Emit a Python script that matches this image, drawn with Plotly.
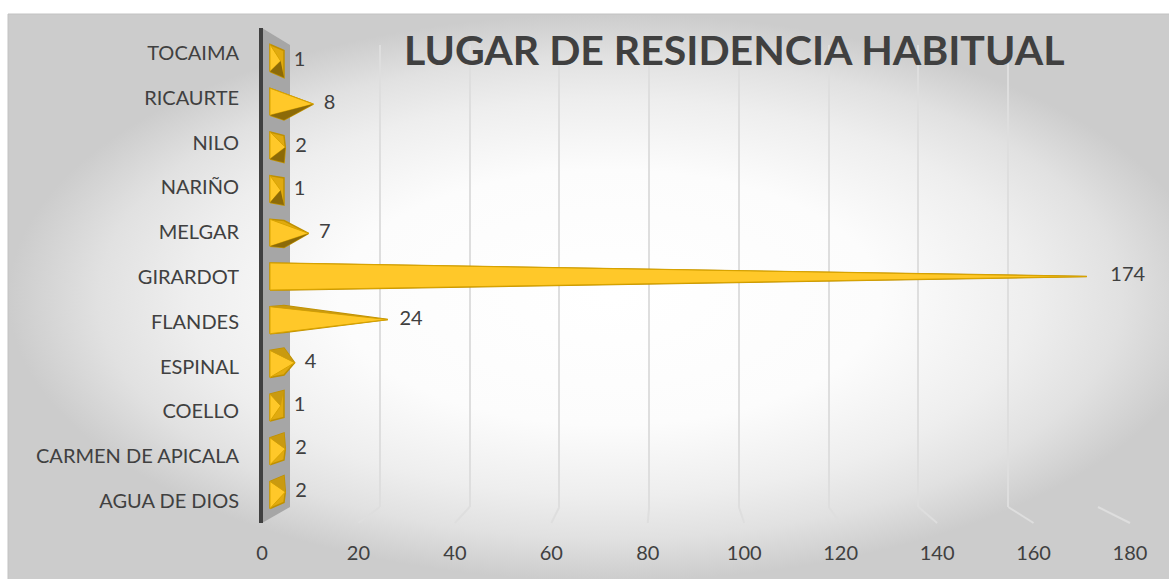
import plotly.graph_objects as go

# ---------------- data ----------------
CATEGORIES = ["AGUA DE DIOS", "CARMEN DE APICALA", "COELLO", "ESPINAL", "FLANDES",
              "GIRARDOT", "MELGAR", "NARIÑO", "NILO", "RICAURTE", "TOCAIMA"]
VALUES = [2, 2, 1, 4, 24, 174, 7, 1, 2, 8, 1]
X_TICKS = [0, 20, 40, 60, 80, 100, 120, 140, 160, 180]
X_TICK_LABELS = ["0", "20", "40", "60", "80", "100", "120", "140", "160", "180"]
TITLE = "LUGAR DE RESIDENCIA HABITUAL"

# ---------------- layout geometry (pixels) ----------------
W, H = 1169, 579
XMAX = 180
FRONT0, FRONT180 = 262, 1130          # front plane (tick labels)
BACK0, BACK180 = 290, 1098            # back plane (gridlines)
MID0, MIDK = 276, 4.66                # mid plane (pyramids)
FRONT_TOP, FRONT_BOT = 28, 523
BACK_TOP, BACK_BOT = 45, 507
LBL_TOP, LBL_BOT = 53, 501            # category label centres
BAR_TOP, BAR_BOT = 58, 495            # pyramid centres
BG_LEFT, BG_TOP = 8, 14


def front_px(v):
    return FRONT0 + (FRONT180 - FRONT0) * v / XMAX


def back_px(v):
    return BACK0 + (BACK180 - BACK0) * v / XMAX


def ydom(top_px, bot_px):
    return [1 - bot_px / H, 1 - top_px / H]


n = len(CATEGORIES)
lbl_step = (LBL_BOT - LBL_TOP) / (n - 1)
bar_step = (BAR_BOT - BAR_TOP) / (n - 1)

TEXT = "#404040"
FONT = "Lato, 'Open Sans', sans-serif"
GRID = "#DEDEDE"

fig = go.Figure()

# ---------- background with radial gradient (pixel subplot xy) ----------
BG_RIGHT = 1212
fig.add_trace(go.Scatter(
    x=[BG_LEFT, BG_RIGHT, BG_RIGHT, BG_LEFT, BG_LEFT], y=[BG_TOP, BG_TOP, H + 2, H + 2, BG_TOP],
    mode="lines", fill="toself",
    line=dict(width=1, color="#C2C2C2"), hoverinfo="skip", showlegend=False,
    fillgradient=dict(type="radial",
                      colorscale=[[0, "#FFFFFF"], [0.45, "#FCFCFC"], [0.7, "#EEEEEE"],
                                  [0.85, "#E1E1E1"], [1, "#CCCCCC"]]),
))

# diagonal floor gridline pieces
gx, gy = [], []
for v in X_TICKS[1:]:
    gx += [back_px(v), front_px(v), None]
    gy += [BACK_BOT, FRONT_BOT, None]
fig.add_trace(go.Scatter(x=gx, y=gy, mode="lines", line=dict(color=GRID, width=2),
                         hoverinfo="skip", showlegend=False))

# side wall
fig.add_trace(go.Scatter(
    x=[front_px(0), back_px(0), back_px(0), front_px(0), front_px(0)],
    y=[FRONT_TOP, BACK_TOP, BACK_BOT, FRONT_BOT, FRONT_TOP],
    mode="lines", fill="toself", fillcolor="#A6A6A6", line=dict(width=0),
    hoverinfo="skip", showlegend=False))
fig.add_trace(go.Scatter(
    x=[front_px(0) - 1, front_px(0) - 1], y=[FRONT_TOP, FRONT_BOT], mode="lines",
    line=dict(color="#404040", width=4), hoverinfo="skip", showlegend=False))

# ---------- back plane grid (x2y2) ----------
fig.add_trace(go.Scatter(x=[None], y=[None], xaxis="x2", yaxis="y2",
                         showlegend=False, hoverinfo="skip"))

# ---------- front plane labels (x3y3) ----------
fig.add_trace(go.Scatter(x=[None], y=[None], xaxis="x3", yaxis="y3",
                         showlegend=False, hoverinfo="skip"))

# ---------- pyramids (x4y4) ----------
XF = -6 / MIDK
XB = 8 / MIDK
HH = 13.5 / bar_step
K = 6 / bar_step / 5
mid = (n - 1) / 2


def hull(pts):
    pts = sorted(set(pts))
    if len(pts) <= 2:
        return pts

    def cross(o, a, b):
        return (a[0] - o[0]) * (b[1] - o[1]) - (a[1] - o[1]) * (b[0] - o[0])
    lower, upper = [], []
    for p in pts:
        while len(lower) >= 2 and cross(lower[-2], lower[-1], p) <= 0:
            lower.pop()
        lower.append(p)
    for p in reversed(pts):
        while len(upper) >= 2 and cross(upper[-2], upper[-1], p) <= 0:
            upper.pop()
        upper.append(p)
    return lower[:-1] + upper[:-1]


for i, v in enumerate(VALUES):
    s = (mid - i) * K
    ft, fb = (XF, i + HH), (XF, i - HH)
    bt, bb = (XB, i + HH + s), (XB, i - HH + s)
    tip = (v, i + s / 2)
    h = hull([ft, fb, bt, bb, tip])
    h.append(h[0])
    fig.add_trace(go.Scatter(
        x=[p[0] for p in h], y=[p[1] for p in h], xaxis="x4", yaxis="y4",
        mode="lines", fill="toself", fillcolor="#E0AA10",
        line=dict(color="#BF9000", width=1.5), hoverinfo="skip", showlegend=False))
    # front face
    fig.add_trace(go.Scatter(
        x=[ft[0], fb[0], tip[0], ft[0]], y=[ft[1], fb[1], tip[1], ft[1]],
        xaxis="x4", yaxis="y4", mode="lines", fill="toself", fillcolor="#FFC829",
        line=dict(color="#D9A400", width=1), hoverinfo="skip", showlegend=False))
    # side face (bottom for upper bars, top for lower bars)
    if i > mid:
        face = [fb, bb, tip, fb]
        col = "#8C6A08"
    elif i < mid:
        face = [ft, bt, tip, ft]
        col = "#C99A10"
    else:
        face = None
    if face:
        fig.add_trace(go.Scatter(
            x=[p[0] for p in face], y=[p[1] for p in face], xaxis="x4", yaxis="y4",
            mode="lines", fill="toself", fillcolor=col, line=dict(width=0),
            hoverinfo="skip", showlegend=False))

# data labels (slight perspective push to the right for longer bars)
fig.add_trace(go.Scatter(
    x=[max(v, XB) + 0.017 * v for v in VALUES],
    y=[i + (mid - i) * K / 2 for i in range(n)],
    xaxis="x4", yaxis="y4", mode="markers+text",
    marker=dict(size=14, color="rgba(0,0,0,0)"),
    text=[str(v) for v in VALUES], textposition="middle right",
    textfont=dict(family=FONT, size=20, color=TEXT),
    cliponaxis=False, hoverinfo="skip", showlegend=False))

hidden = dict(visible=False, showgrid=False, zeroline=False, fixedrange=True)

fig.update_layout(
    width=W, height=H, autosize=False,
    margin=dict(l=0, r=0, t=0, b=0, pad=0, autoexpand=False),
    paper_bgcolor="white", plot_bgcolor="rgba(0,0,0,0)",
    hovermode=False, showlegend=False,
    xaxis=dict(domain=[0, 1], range=[0, W], anchor="y", **hidden),
    yaxis=dict(domain=[0, 1], range=[H, 0], anchor="x", **hidden),
    xaxis2=dict(domain=[BACK0 / W, BACK180 / W], range=[0, XMAX], anchor="y2",
                tickvals=X_TICKS[1:], showgrid=True, gridcolor=GRID, gridwidth=2,
                showticklabels=False, ticks="", zeroline=False, showline=False,
                fixedrange=True),
    yaxis2=dict(domain=ydom(BACK_TOP, BACK_BOT), range=[0, 1], anchor="x2",
                showgrid=False, zeroline=False, showticklabels=False, showline=False,
                fixedrange=True),
    xaxis3=dict(domain=[FRONT0 / W, FRONT180 / W], range=[0, XMAX], anchor="y3",
                tickvals=X_TICKS, ticktext=X_TICK_LABELS, ticks="outside", ticklen=12,
                tickcolor="rgba(0,0,0,0)", showgrid=False, zeroline=False, showline=False,
                tickfont=dict(family=FONT, size=20, color=TEXT), fixedrange=True),
    yaxis3=dict(domain=ydom(LBL_TOP - lbl_step / 2, LBL_BOT + lbl_step / 2),
                range=[-0.5, n - 0.5], anchor="x3",
                tickvals=list(range(n)), ticktext=CATEGORIES, ticks="outside", ticklen=18,
                tickcolor="rgba(0,0,0,0)", showgrid=False, zeroline=False, showline=False,
                tickfont=dict(family=FONT, size=20, color=TEXT), fixedrange=True),
    xaxis4=dict(domain=[(MID0 - 3 * MIDK) / W, (MID0 + 190 * MIDK) / W], range=[-3, 190],
                anchor="y4", **hidden),
    yaxis4=dict(domain=ydom(BAR_TOP - bar_step / 2, BAR_BOT + bar_step / 2),
                range=[-0.5, n - 0.5], anchor="x4", **hidden),
    annotations=[dict(
        text="<b>" + TITLE + "</b>", x=402 / W, y=1 - 49 / H, xref="paper", yref="paper",
        xanchor="left", yanchor="middle", showarrow=False,
        font=dict(family="Lato, sans-serif", size=41, color=TEXT))],
)

fig.write_html("out.html",
               config={"responsive": False, "displayModeBar": False, "staticPlot": True},
               post_script="document.body.style.margin='0';"
                           "document.body.style.overflow='hidden';")
